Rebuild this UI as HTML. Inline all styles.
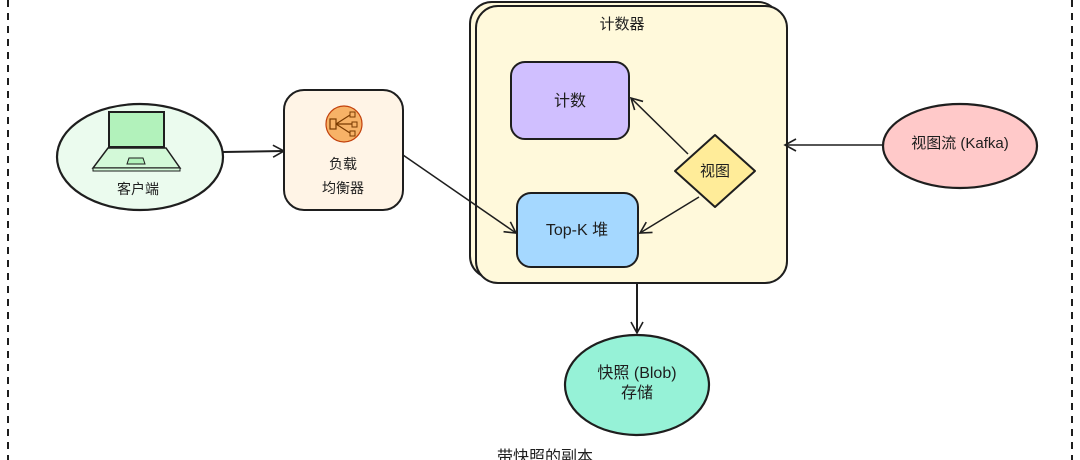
<!DOCTYPE html>
<html><head><meta charset="utf-8"><style>
html,body{margin:0;padding:0;background:#fff;}
svg{display:block}
text{font-family:"Liberation Sans","Noto Sans CJK SC",sans-serif;fill:#1e1e1e;}
</style></head><body>
<svg width="1080" height="460" viewBox="0 0 1080 460" xmlns="http://www.w3.org/2000/svg">
<defs>
<marker id="a" markerWidth="14" markerHeight="14" refX="12" refY="7" orient="auto" markerUnits="userSpaceOnUse">
<path d="M1,1 L12,7 L1,13" fill="none" stroke="#1e1e1e" stroke-width="1.6"/>
</marker>
</defs>
<line x1="8" y1="0" x2="8" y2="460" stroke="#1e1e1e" stroke-width="2" stroke-dasharray="7,6"/>
<line x1="1072" y1="0" x2="1072" y2="460" stroke="#1e1e1e" stroke-width="2" stroke-dasharray="7,6"/>

<!-- client -->
<ellipse cx="140" cy="157" rx="83" ry="53" fill="#ebfbee" stroke="#1e1e1e" stroke-width="2.2"/>
<rect x="109" y="112" width="55" height="35" fill="#b2f2bb" stroke="#1e1e1e" stroke-width="2"/>
<path d="M108,148 L166,148 L180,168 L93,168 Z" fill="#d3f9d8" stroke="#1e1e1e" stroke-width="1.5"/>
<path d="M93,168 L180,168 L180,171 L93,171 Z" fill="#d3f9d8" stroke="#1e1e1e" stroke-width="1"/>
<path d="M129,158 L143,158 L145,164 L127,164 Z" fill="#b2f2bb" stroke="#1e1e1e" stroke-width="1"/>
<text x="138" y="194" font-size="14" text-anchor="middle">客户端</text>

<line x1="223" y1="152" x2="284" y2="151" stroke="#1e1e1e" stroke-width="2" marker-end="url(#a)"/>

<!-- LB -->
<rect x="284" y="90" width="119" height="120" rx="20" fill="#fff4e6" stroke="#1e1e1e" stroke-width="2"/>
<circle cx="344" cy="124" r="18" fill="#f7b267" stroke="#c2410c" stroke-width="1.2"/>
<rect x="330" y="119" width="6" height="10" fill="none" stroke="#7a3a00" stroke-width="1.2"/>
<path d="M336,124 L350,115 M336,124 L352,124 M336,124 L350,133" stroke="#7a3a00" stroke-width="1.2"/>
<rect x="350" y="112" width="5" height="5" fill="none" stroke="#7a3a00"/>
<rect x="352" y="122" width="5" height="5" fill="none" stroke="#7a3a00"/>
<rect x="350" y="131" width="5" height="5" fill="none" stroke="#7a3a00"/>
<text x="343" y="169" font-size="14" text-anchor="middle">负载</text>
<text x="343" y="193" font-size="14" text-anchor="middle">均衡器</text>

<!-- counter container -->
<rect x="470" y="2" width="310" height="276" rx="22" fill="#fff9db" stroke="#1e1e1e" stroke-width="2"/>
<rect x="476" y="6" width="311" height="277" rx="22" fill="#fff9db" stroke="#1e1e1e" stroke-width="2"/>
<text x="622" y="29" font-size="15" text-anchor="middle">计数器</text>

<rect x="511" y="62" width="118" height="77" rx="14" fill="#d0bfff" stroke="#1e1e1e" stroke-width="2"/>
<text x="570" y="106" font-size="16" text-anchor="middle">计数</text>

<rect x="517" y="193" width="121" height="74" rx="14" fill="#a5d8ff" stroke="#1e1e1e" stroke-width="2"/>
<text x="577" y="235" font-size="16" text-anchor="middle">Top-K 堆</text>

<line x1="403" y1="155" x2="516" y2="233" stroke="#1e1e1e" stroke-width="1.5" marker-end="url(#a)"/>

<path d="M715,135 L755,171 L715,207 L675,171 Z" fill="#ffec99" stroke="#1e1e1e" stroke-width="2" stroke-linejoin="round"/>
<text x="715" y="176" font-size="15" text-anchor="middle">视图</text>

<line x1="688" y1="154" x2="631" y2="98" stroke="#1e1e1e" stroke-width="1.5" marker-end="url(#a)"/>
<line x1="699" y1="197" x2="640" y2="233" stroke="#1e1e1e" stroke-width="1.5" marker-end="url(#a)"/>

<!-- kafka -->
<ellipse cx="960" cy="146" rx="77" ry="42" fill="#ffc9c9" stroke="#1e1e1e" stroke-width="2.2"/>
<text x="960" y="148" font-size="15" text-anchor="middle">视图流 (Kafka)</text>
<line x1="884" y1="145" x2="785" y2="145" stroke="#1e1e1e" stroke-width="1.5" marker-end="url(#a)"/>

<!-- down arrow -->
<line x1="637" y1="283" x2="637" y2="333" stroke="#1e1e1e" stroke-width="2" marker-end="url(#a)"/>

<!-- snapshot -->
<ellipse cx="637" cy="385" rx="72" ry="50" fill="#96f2d7" stroke="#1e1e1e" stroke-width="2.2"/>
<text x="637" y="378" font-size="16" text-anchor="middle">快照 (Blob)</text>
<text x="637" y="398" font-size="16" text-anchor="middle">存储</text>

<text x="545" y="462" font-size="16" text-anchor="middle">带快照的副本</text>
</svg>
</body></html>
